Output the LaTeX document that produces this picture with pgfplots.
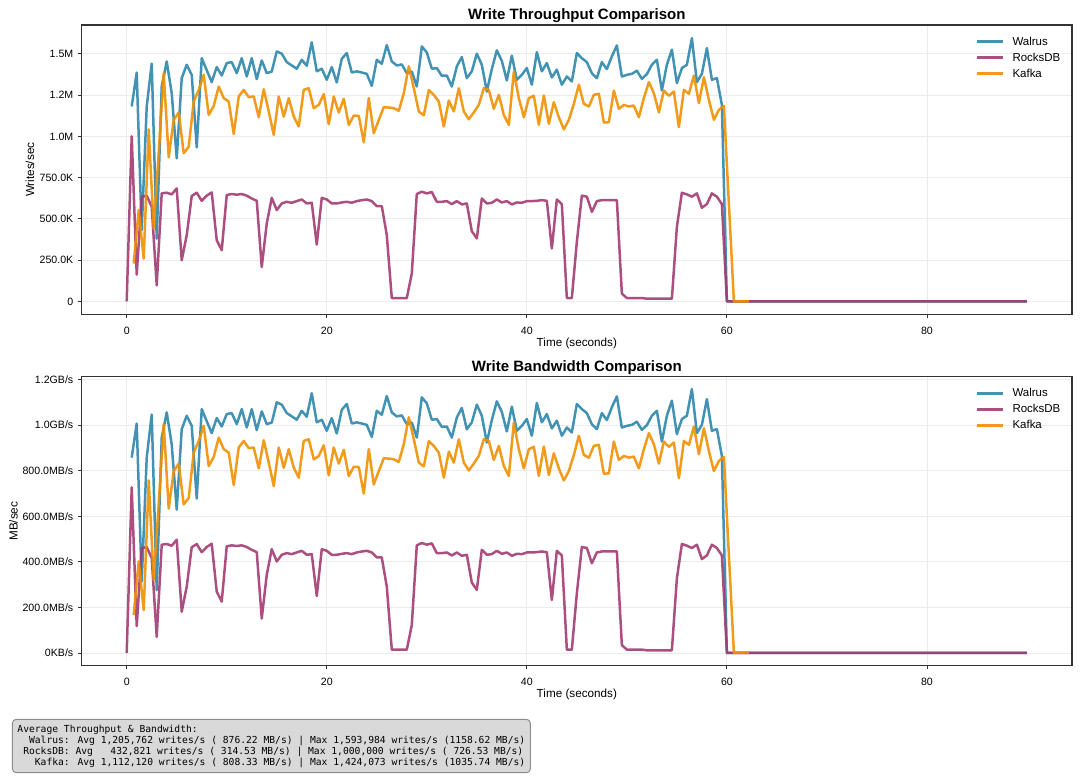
\documentclass[border=0pt]{standalone}
\usepackage{fontspec}
\setmainfont{Liberation Sans}
\newfontfamily\monofont{DejaVu Sans Mono}
\usepackage{pgfplots}
\usepackage{pgfplotstable}
\pgfplotsset{compat=1.18}
\definecolor{cW}{HTML}{2E86AB}
\definecolor{cR}{HTML}{A23B72}
\definecolor{cK}{HTML}{F18F01}
\definecolor{spine}{HTML}{333333}

% writes/s in thousands
\pgfplotstableread{
t w
0.5 1180
1.0 1386
1.5 431
2.0 1180
2.5 1440
3.0 380
3.5 1300
4.0 1453
4.5 1260
5.0 866
5.5 1352
6.0 1433
6.5 1372
7.0 933
7.5 1473
8.0 1400
8.5 1328
9.0 1419
9.5 1368
10.0 1443
10.5 1449
11.0 1382
11.5 1473
12.0 1362
12.5 1473
13.0 1346
13.5 1459
14.0 1382
14.5 1392
15.0 1514
15.5 1500
16.0 1449
16.5 1429
17.0 1409
17.5 1463
18.0 1427
18.5 1569
19.0 1393
19.5 1409
20.0 1342
20.5 1419
21.0 1326
21.5 1469
22.0 1504
22.5 1386
23.0 1393
23.5 1386
24.0 1378
24.5 1305
25.0 1463
25.5 1439
26.0 1552
26.5 1453
27.0 1429
27.5 1435
28.0 1382
28.5 1392
29.0 1301
29.5 1544
30.0 1508
30.5 1409
31.0 1413
31.5 1366
32.0 1368
32.5 1301
33.0 1423
33.5 1480
34.0 1352
34.5 1393
35.0 1500
35.5 1433
36.0 1271
36.5 1407
37.0 1520
37.5 1457
38.0 1338
38.5 1488
39.0 1342
39.5 1372
40.0 1413
40.5 1312
41.0 1510
41.5 1393
42.0 1443
42.5 1356
43.0 1403
43.5 1312
44.0 1362
44.5 1332
45.0 1504
45.5 1473
46.0 1449
46.5 1382
47.0 1352
47.5 1449
48.0 1407
48.5 1484
49.0 1550
49.5 1362
50.0 1372
50.5 1378
51.0 1397
51.5 1348
52.0 1376
52.5 1433
53.0 1463
53.5 1277
54.0 1433
54.5 1524
55.0 1322
55.5 1413
56.0 1433
56.5 1594
57.0 1328
57.5 1378
58.0 1534
58.5 1342
59.0 1352
59.5 1190
60.0 0
90.0 0
}\walrus

\pgfplotstableread{
t w
0.0 0
0.5 1000
1.0 162
1.5 633
2.0 640
2.5 573
3.0 97
3.5 654
4.0 658
4.5 648
5.0 684
5.5 249
6.0 401
6.5 638
7.0 658
7.5 609
8.0 640
8.5 660
9.0 370
9.5 310
10.0 644
10.5 650
11.0 646
11.5 650
12.0 640
12.5 623
13.0 609
13.5 208
14.0 472
14.5 627
15.0 553
15.5 593
16.0 603
16.5 597
17.0 607
17.5 617
18.0 593
18.5 597
19.0 344
19.5 627
20.0 617
20.5 593
21.0 593
21.5 599
22.0 603
22.5 597
23.0 607
23.5 613
24.0 617
24.5 607
25.0 577
25.5 577
26.0 401
26.5 20
27.0 20
27.5 20
28.0 20
28.5 168
29.0 650
29.5 664
30.0 654
30.5 662
31.0 603
31.5 603
32.0 607
32.5 589
33.0 607
33.5 587
34.0 593
34.5 425
35.0 381
35.5 623
36.0 593
36.5 597
37.0 617
37.5 599
38.0 607
38.5 587
39.0 599
39.5 597
40.0 607
40.5 607
41.0 609
41.5 613
42.0 609
42.5 320
43.0 617
43.5 589
44.0 20
44.5 20
45.0 360
45.5 640
46.0 634
46.5 542
47.0 607
47.5 613
48.0 613
48.5 613
49.0 613
49.5 47
50.0 20
50.5 20
51.0 20
51.5 20
52.0 16
52.5 16
53.0 16
53.5 16
54.0 16
54.5 16
55.0 451
55.5 658
56.0 648
56.5 634
57.0 654
57.5 567
58.0 589
58.5 654
59.0 634
59.5 589
60.0 0
90.0 0
}\rocks

\pgfplotstableread{
t w
0.7 229
1.2 553
1.7 259
2.2 1042
2.7 441
3.2 900
3.7 1382
4.2 872
4.7 1099
5.2 1144
5.7 897
6.2 937
6.7 1210
7.2 1281
7.7 1372
8.2 1129
8.7 1184
9.2 1301
9.7 1231
10.2 1210
10.7 1014
11.2 1241
11.7 1281
12.2 1237
12.7 1241
13.2 1115
13.7 1285
14.2 1150
14.7 1008
15.2 1241
15.7 1119
16.2 1231
16.7 1119
17.2 1059
17.7 1281
18.2 1291
18.7 1170
19.2 1190
19.7 1255
20.2 1073
20.7 1241
21.2 1144
21.7 1227
22.2 1069
22.7 1125
23.2 1123
23.7 963
24.2 1231
24.7 1018
25.2 1099
25.7 1176
26.2 1174
26.7 1170
27.2 1154
27.7 1261
28.2 1424
28.7 1291
29.2 1150
29.7 1127
30.2 1279
30.7 1251
31.2 1210
31.7 1059
32.2 1216
32.7 1150
33.2 1291
33.7 1150
34.2 1103
34.7 1144
35.2 1190
35.7 1291
36.2 1281
36.7 1166
37.2 1251
37.7 1129
38.2 1069
38.7 1392
39.2 1231
39.7 1115
40.2 1231
40.7 1245
41.2 1069
41.7 1247
42.2 1075
42.7 1206
43.2 1115
43.7 1042
44.2 1099
44.7 1196
45.2 1312
45.7 1196
46.2 1180
46.7 1251
47.2 1257
47.7 1083
48.2 1085
48.7 1277
49.2 1166
49.7 1190
50.2 1180
50.7 1186
51.2 1115
51.7 1231
52.2 1328
52.7 1261
53.2 1144
53.7 1277
54.2 1245
54.7 1271
55.2 1055
55.7 1281
56.2 1257
56.7 1368
57.2 1200
57.7 1358
58.2 1220
58.7 1099
59.2 1160
59.7 1184
60.7 0
62.2 0
}\kafka

\pgfplotsset{
  myaxis/.style={
    scale only axis,
    width=715.7pt,
    xmin=-4.5, xmax=94.5,
    xtick={0,20,40,60,80},
    xticklabels={0,20,40,60,80},
    tick pos=left,
    tick align=outside,
    major tick length=2.5pt,
    major tick style={spine, line width=0.6pt},
    axis line style={spine, line width=0.8pt},
    grid=major,
    major grid style={line width=0.6pt, color=black!8},
    tick label style={font=\fontsize{7.66}{9}\selectfont},
    xticklabel style={anchor=north, inner sep=0pt, yshift=-6.1pt},
    yticklabel style={anchor=base east, inner sep=0pt, xshift=-3.4pt, yshift=-2.74pt},
    every axis x label/.style={at={(axis description cs:0.5,0)}, anchor=base, yshift=-23pt},
    xlabel style={font=\fontsize{8.46}{10}\selectfont},
    title style={font=\bfseries\fontsize{10.84}{13}\selectfont, at={(0.5,1)}, anchor=base, yshift=-2pt},
    legend style={draw=none, fill=none, inner sep=0pt, at={(1,1)}, anchor=north east,
      xshift=-8.2pt, yshift=-8.1pt,
      font=\fontsize{8.3}{10}\selectfont,
      nodes={inner sep=0pt, text height=6.2pt, text depth=1.8pt},
      row sep=3.6pt,
      /tikz/every odd column/.append style={column sep=5.8pt}},
    legend cell align=left,
    legend image code/.code={\draw[#1, line width=2.1pt, opacity=0.9] (0pt,0.2pt) -- (18.8pt,0.2pt);},
  },
  ser/.style={#1, line width=1.8pt, opacity=0.9, line join=round},
}

\begin{document}
\begin{tikzpicture}
\useasboundingbox (0,0) rectangle (780.52pt,-560.82pt);

\begin{axis}[myaxis,
  at={(59.04pt,-227.29pt)}, anchor=south west,
  height=209.2pt,
  ymin=-79.7, ymax=1673.7,
  ytick={0,250,500,750,1000,1250,1500},
  yticklabels={0,250.0K,500.0K,750.0K,1.0M,1.2M,1.5M},
  title={Write Throughput Comparison},
  xlabel={Time (seconds)},
  ylabel={Writes/sec},
  every axis y label/.style={at={(axis description cs:-0.048,0.5)}, rotate=90, anchor=base},
  ylabel style={font=\fontsize{8.46}{10}\selectfont},
]
\addplot[ser=cW] table[x=t,y=w]{\walrus};
\addplot[ser=cR] table[x=t,y=w]{\rocks};
\addplot[ser=cK] table[x=t,y=w]{\kafka};
\legend{Walrus,RocksDB,Kafka}
\end{axis}

\begin{axis}[myaxis,
  at={(59.04pt,-481.1pt)}, anchor=south west,
  height=208.9pt,
  ymin=-56, ymax=1213,
  ytick={0,200,400,600,800,1000,1200},
  yticklabels={0KB/s,200.0MB/s,400.0MB/s,600.0MB/s,800.0MB/s,1.0GB/s,1.2GB/s},
  title={Write Bandwidth Comparison},
  xlabel={Time (seconds)},
  ylabel={MB/sec},
  every axis y label/.style={at={(axis description cs:-0.0648,0.5)}, rotate=90, anchor=base},
  ylabel style={font=\fontsize{8.46}{10}\selectfont},
]
\addplot[ser=cW] table[x=t,y expr=\thisrow{w}*0.7267]{\walrus};
\addplot[ser=cR] table[x=t,y expr=\thisrow{w}*0.7267]{\rocks};
\addplot[ser=cK] table[x=t,y expr=\thisrow{w}*0.7267]{\kafka};
\legend{Walrus,RocksDB,Kafka}
\end{axis}

\node[anchor=north west, draw=black!45, fill=black!15, line width=0.7pt,
  rounded corners=2.5pt, inner xsep=3.6pt, inner ysep=3.8pt, align=left,
  font=\monofont\fontsize{6.98}{7.95}\selectfont] at (8.67pt,-519.6pt)
{Average Throughput \& Bandwidth:\\
~~Walrus: Avg 1,205,762 writes/s (~876.22 MB/s) | Max 1,593,984 writes/s (1158.62 MB/s)\\
~RocksDB: Avg~~~432,821 writes/s (~314.53 MB/s) | Max 1,000,000 writes/s (~726.53 MB/s)\\
~~~Kafka: Avg 1,112,120 writes/s (~808.33 MB/s) | Max 1,424,073 writes/s (1035.74 MB/s)};
\end{tikzpicture}
\end{document}
